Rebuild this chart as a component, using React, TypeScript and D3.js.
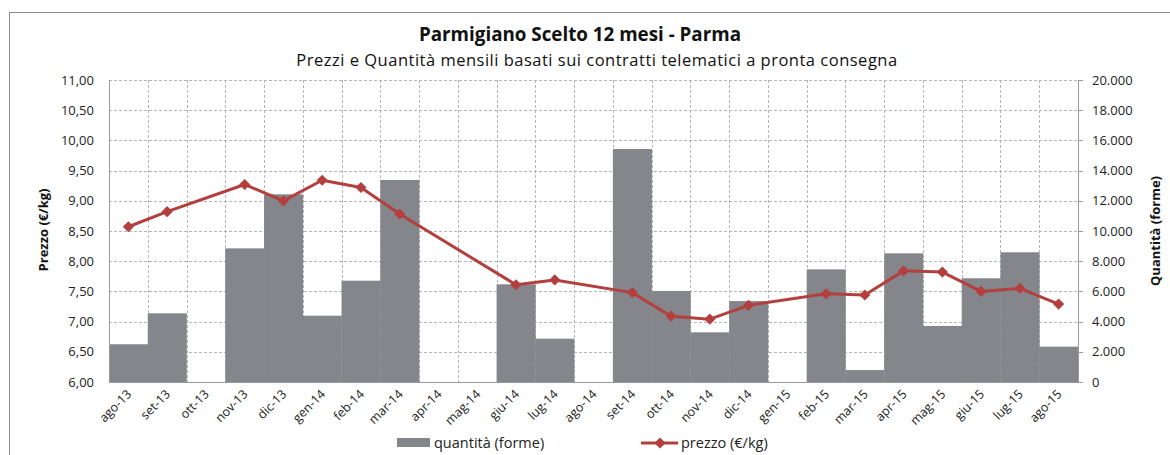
import { useEffect, useRef } from 'react'
import * as d3 from 'd3'

// months on the x axis
const months = [
  'ago-13', 'set-13', 'ott-13', 'nov-13', 'dic-13', 'gen-14', 'feb-14', 'mar-14',
  'apr-14', 'mag-14', 'giu-14', 'lug-14', 'ago-14', 'set-14', 'ott-14', 'nov-14',
  'dic-14', 'gen-15', 'feb-15', 'mar-15', 'apr-15', 'mag-15', 'giu-15', 'lug-15', 'ago-15'
]

// quantità (forme), right axis
const quantity: (number | null)[] = [
  2500, 4550, null, 8850, 12430, 4390, 6710, 13380,
  null, null, 6470, 2870, null, 15430, 6030, 3290,
  5360, null, 7460, 790, 8520, 3710, 6870, 8590, 2340
]

// prezzo (€/kg), left axis
const price: (number | null)[] = [
  8.57, 8.82, null, 9.27, 9.0, 9.34, 9.22, 8.78,
  null, null, 7.61, 7.69, null, 7.48, 7.09, 7.04,
  7.27, null, 7.46, 7.44, 7.84, 7.82, 7.5, 7.55, 7.29
]

const priceTicks = [6, 6.5, 7, 7.5, 8, 8.5, 9, 9.5, 10, 10.5, 11]
const qtyTicks = [0, 2000, 4000, 6000, 8000, 10000, 12000, 14000, 16000, 18000, 20000]

const W = 1170
const H = 455
const FONT = '"Open Sans", Lato, sans-serif'
const BAR = '#85868b'
const RED = '#b3403f'

const App = () => {
  const svgRef = useRef<SVGSVGElement>(null)

  useEffect(() => {
    if (!svgRef.current) return
    const root = d3.select(svgRef.current)
    root.selectAll('*').remove()

    const left = 109
    const right = 1078
    const top = 80
    const bottom = 382

    // outer frame
    root.append('rect')
      .attr('x', 9.5).attr('y', 12.5)
      .attr('width', W).attr('height', H)
      .attr('fill', '#fff').attr('stroke', '#8c8c8c').attr('stroke-width', 1)

    const x = d3.scaleBand().domain(months).range([left, right]).padding(0)
    const yP = d3.scaleLinear().domain([6, 11]).range([bottom, top])
    const yQ = d3.scaleLinear().domain([0, 20000]).range([bottom, top])

    const fmtP = (v: number) => d3.format('.2f')(v).replace('.', ',')
    const fmtQ = (v: number) => d3.format(',')(v).replace(/,/g, '.')

    // horizontal grid
    root.append('g')
      .selectAll('line')
      .data(priceTicks.slice(1))
      .enter()
      .append('line')
      .attr('x1', left).attr('x2', right)
      .attr('y1', d => Math.round(yP(d)) + 0.5)
      .attr('y2', d => Math.round(yP(d)) + 0.5)
      .attr('stroke', '#b5b5b5')
      .attr('stroke-dasharray', '3,2')

    // vertical grid at category boundaries
    root.append('g')
      .selectAll('line')
      .data(months.slice(1))
      .enter()
      .append('line')
      .attr('x1', d => Math.round(x(d) || 0) + 0.5)
      .attr('x2', d => Math.round(x(d) || 0) + 0.5)
      .attr('y1', top).attr('y2', bottom)
      .attr('stroke', '#b5b5b5')
      .attr('stroke-dasharray', '3,2')

    // bars
    root.append('g')
      .selectAll('rect')
      .data(months.map((m, i) => ({ m, v: quantity[i] })).filter(d => d.v !== null))
      .enter()
      .append('rect')
      .attr('x', d => x(d.m) || 0)
      .attr('y', d => yQ(d.v as number))
      .attr('width', x.bandwidth() + 0.3)
      .attr('height', d => bottom - yQ(d.v as number))
      .attr('fill', BAR)

    // axes lines
    root.append('line')
      .attr('x1', left + 0.5).attr('x2', left + 0.5).attr('y1', top).attr('y2', bottom)
      .attr('stroke', '#9a9a9a')
    root.append('line')
      .attr('x1', right + 0.5).attr('x2', right + 0.5).attr('y1', top).attr('y2', bottom)
      .attr('stroke', '#9a9a9a')
    root.append('line')
      .attr('x1', left).attr('x2', right + 1).attr('y1', bottom + 0.5).attr('y2', bottom + 0.5)
      .attr('stroke', '#9a9a9a')

    // right axis tick marks
    root.append('g')
      .selectAll('line')
      .data(qtyTicks)
      .enter()
      .append('line')
      .attr('x1', right).attr('x2', right + 5)
      .attr('y1', d => Math.round(yQ(d)) + 0.5)
      .attr('y2', d => Math.round(yQ(d)) + 0.5)
      .attr('stroke', '#9a9a9a')

    // left tick labels
    root.append('g')
      .selectAll('text')
      .data(priceTicks)
      .enter()
      .append('text')
      .attr('x', 94)
      .attr('y', d => yP(d) + 4.5)
      .attr('text-anchor', 'end')
      .attr('font-family', FONT)
      .attr('font-size', 13)
      .attr('fill', '#222')
      .text(d => fmtP(d))

    // right tick labels
    root.append('g')
      .selectAll('text')
      .data(qtyTicks)
      .enter()
      .append('text')
      .attr('x', 1092)
      .attr('y', d => yQ(d) + 4.5)
      .attr('text-anchor', 'start')
      .attr('font-family', FONT)
      .attr('font-size', 13)
      .attr('fill', '#222')
      .text(d => fmtQ(d))

    // x labels
    root.append('g')
      .selectAll('text')
      .data(months)
      .enter()
      .append('text')
      .attr('transform', d => `translate(${(x(d) || 0) + x.bandwidth() / 2 + 4},${bottom + 13}) rotate(-45)`)
      .attr('text-anchor', 'end')
      .attr('font-family', FONT)
      .attr('font-size', 12.5)
      .attr('fill', '#222')
      .text(d => d)

    // price line
    const pts = months.map((m, i) => ({ m, v: price[i] })).filter(d => d.v !== null)
    const line = d3.line<{ m: string; v: number | null }>()
      .x(d => (x(d.m) || 0) + x.bandwidth() / 2)
      .y(d => yP(d.v as number))
    root.append('path')
      .datum(pts)
      .attr('d', line)
      .attr('fill', 'none')
      .attr('stroke', RED)
      .attr('stroke-width', 3)
      .attr('stroke-linejoin', 'round')

    const diamond = d3.symbol().type(d3.symbolDiamond2).size(80)
    root.append('g')
      .selectAll('path')
      .data(pts)
      .enter()
      .append('path')
      .attr('d', diamond)
      .attr('transform', d => `translate(${(x(d.m) || 0) + x.bandwidth() / 2},${yP(d.v as number)})`)
      .attr('fill', RED)

    // titles
    root.append('text')
      .attr('x', 580).attr('y', 41)
      .attr('text-anchor', 'middle')
      .attr('font-family', FONT)
      .attr('font-size', 18.8)
      .attr('font-weight', 'bold')
      .attr('fill', '#111')
      .text('Parmigiano Scelto 12 mesi - Parma')

    root.append('text')
      .attr('x', 597).attr('y', 66)
      .attr('text-anchor', 'middle')
      .attr('font-family', FONT)
      .attr('font-size', 16.5)
      .attr('letter-spacing', 0.5)
      .attr('fill', '#111')
      .text('Prezzi e Quantità mensili basati sui contratti telematici a pronta consegna')

    root.append('text')
      .attr('transform', `translate(48,230) rotate(-90)`)
      .attr('text-anchor', 'middle')
      .attr('font-family', FONT)
      .attr('font-size', 13)
      .attr('font-weight', 'bold')
      .attr('fill', '#111')
      .text('Prezzo (€/kg)')

    root.append('text')
      .attr('transform', `translate(1160,231) rotate(-90)`)
      .attr('text-anchor', 'middle')
      .attr('font-family', FONT)
      .attr('font-size', 13)
      .attr('font-weight', 'bold')
      .attr('fill', '#111')
      .text('Quantità (forme)')

    // legend
    root.append('rect')
      .attr('x', 397).attr('y', 438).attr('width', 33).attr('height', 9)
      .attr('fill', BAR)
    root.append('text')
      .attr('x', 434).attr('y', 448)
      .attr('font-family', FONT).attr('font-size', 14.5).attr('fill', '#222')
      .text('quantità (forme)')

    root.append('line')
      .attr('x1', 641).attr('x2', 678).attr('y1', 443).attr('y2', 443)
      .attr('stroke', RED).attr('stroke-width', 3)
    root.append('path')
      .attr('d', diamond)
      .attr('transform', 'translate(660,443)')
      .attr('fill', RED)
    root.append('text')
      .attr('x', 681).attr('y', 448)
      .attr('font-family', FONT).attr('font-size', 14.5).attr('fill', '#222')
      .text('prezzo (€/kg)')
  }, [])

  return (
    <svg
      ref={svgRef}
      width={W}
      height={H}
      style={{ position: 'absolute', left: 0, top: 0, display: 'block' }}
    />
  )
}

export default App
